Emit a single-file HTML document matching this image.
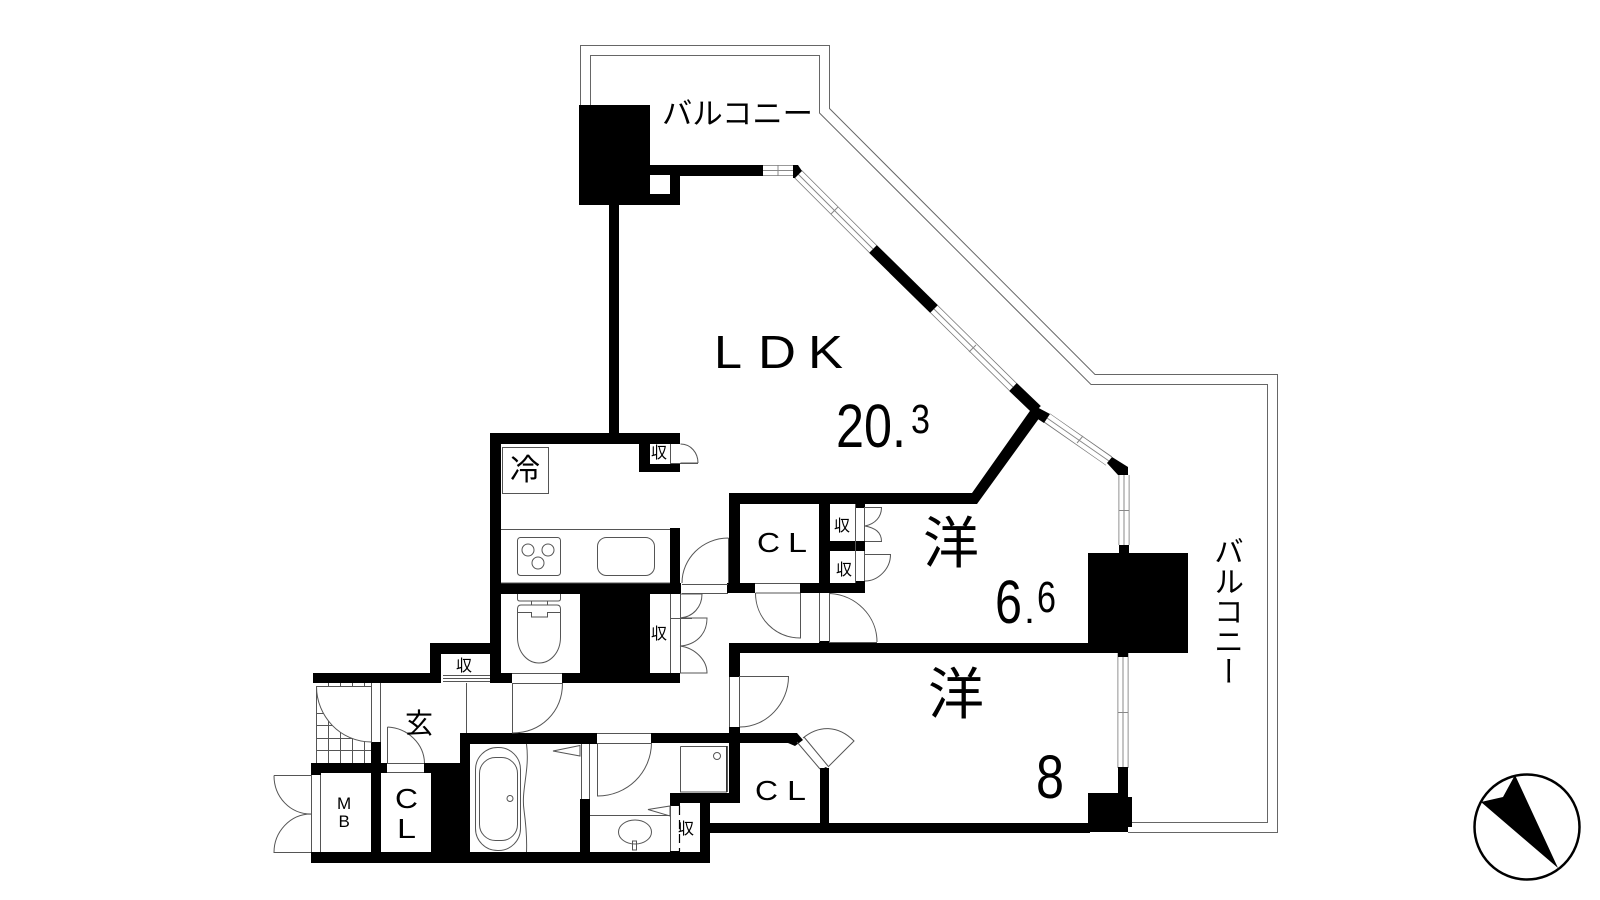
<!DOCTYPE html>
<html><head><meta charset="utf-8"><style>
html,body{margin:0;padding:0;background:#fff;width:1600px;height:900px;overflow:hidden}
svg{display:block;position:absolute;left:0;top:0}
text{font-family:"Liberation Sans","Noto Sans CJK JP",sans-serif;fill:#000}
.v{position:absolute;left:1208px;top:536px;width:32px;font:30px/30px "Liberation Sans","Noto Sans CJK JP",sans-serif;writing-mode:vertical-rl;white-space:nowrap;color:#000;letter-spacing:0}
</style></head><body>
<svg width="1600" height="900" viewBox="0 0 1600 900" xmlns="http://www.w3.org/2000/svg">
<rect width="1600" height="900" fill="#fff"/>
<!-- balcony -->
<g fill="none" stroke="#666" stroke-width="1">
<path d="M580.5 105V45.5H829.5V108.5L1095 374.5H1277.5V832.5H1128"/>
<path d="M590.5 105V55.5H819.5V113L1091 384.5H1267.5V822.5H1132"/>
</g>
<!-- windows -->
<g fill="none">
<g stroke="#777" stroke-width="11">
<path d="M763 170.5H794M798 174L873 249M934 309L1013 387M1047 418L1109 461M1124 475V545M1123 653V768"/>
</g>
<g stroke="#fff" stroke-width="9.4">
<path d="M762 170.5H795M797 173L874 250M933 308L1014 388M1046 417L1110 462M1124 474V546M1123 652V769"/>
</g>
<g stroke="#888" stroke-width="1">
<path d="M763 170.5H794M798 174L873 249M934 309L1013 387M1047 418L1109 461M1124 475V545M1123 653V768"/>
<path d="M778 165.5V175.5M831 214L838 207M969 352L976 345M1077 443L1083 436M1119 510.5H1129M1118 712.5H1128"/>
</g>
</g>
<!-- black walls -->
<g fill="#000">
<path d="M579 105H650V165H763V176H680V205H579Z"/>
<rect x="650" y="175" width="20" height="19" fill="#fff"/>
<path d="M793 165H798L802 171L795 178H793Z"/>
<path d="M873 249L934 309" stroke="#000" stroke-width="11" fill="none"/>
<path d="M1013 387L1037 410" stroke="#000" stroke-width="11" fill="none"/>
<path d="M1033 405L1050 414L1044 423L1030 414Z"/>
<path d="M729 493H972L1032 408L1040 417L977 504H740V593H727V583H729Z"/>
<path d="M1112 457L1128 467V475H1118L1107 463Z"/>
<rect x="1119" y="545" width="10" height="10"/>
<rect x="1088" y="553" width="100" height="100"/>
<rect x="1118" y="653" width="10" height="4"/>
<rect x="1118" y="767" width="10" height="30"/>
<rect x="1088" y="793" width="40" height="39"/>
<rect x="1128" y="797" width="4" height="30"/>
<rect x="710" y="823" width="380" height="10"/>
<rect x="820" y="768" width="9" height="55"/>
<!-- kitchen -->
<rect x="609" y="205" width="10" height="230"/>
<rect x="490" y="433" width="190" height="11"/>
<rect x="490" y="433" width="11" height="250"/>
<rect x="639" y="433" width="41" height="39"/>
<rect x="650" y="444" width="20" height="20" fill="#fff"/>
<rect x="670" y="444" width="10" height="19" fill="#fff"/>
<rect x="670" y="528" width="10" height="66"/>
<rect x="490" y="583" width="191" height="11"/>
<rect x="580" y="594" width="70" height="85"/>
<rect x="490" y="673" width="22" height="10"/>
<rect x="562" y="673" width="118" height="10"/>
<!-- CL upper -->
<rect x="729" y="493" width="11" height="100"/>
<rect x="727" y="583" width="28" height="10"/>
<rect x="800" y="583" width="65" height="10"/>
<rect x="819" y="504" width="11" height="80"/>
<rect x="830" y="541" width="35" height="10"/>
<rect x="855" y="504" width="10" height="4"/>
<rect x="855" y="581" width="10" height="4"/>
<!-- corridor wall -->
<rect x="729" y="643" width="360" height="10"/>
<rect x="729" y="643" width="11" height="34"/>
<rect x="819" y="641" width="10" height="3"/>
<rect x="729" y="727" width="11" height="76"/>
<path d="M651 733H797L803 740L795 746L788 743H651Z"/>
<rect x="670" y="793" width="70" height="10"/>
<rect x="670" y="793" width="10" height="13"/>
<rect x="700" y="803" width="10" height="60"/>
<path d="M820 770L826 767L829 770V790H820Z"/>
<!-- entry -->
<rect x="430" y="643" width="60" height="11"/>
<rect x="430" y="643" width="11" height="40"/>
<rect x="313" y="673" width="128" height="10"/>
<rect x="371" y="742" width="10" height="111"/>
<rect x="311" y="763" width="76" height="10"/>
<rect x="311" y="763" width="10" height="12"/>
<rect x="424" y="763" width="7" height="10"/>
<rect x="431" y="763" width="39" height="90"/>
<rect x="460" y="733" width="10" height="30"/>
<rect x="460" y="733" width="137" height="11"/>
<rect x="311" y="852" width="399" height="11"/>
<rect x="580" y="799" width="10" height="54"/>
<rect x="670" y="851" width="10" height="3"/>
</g>
<!-- thin details -->
<g fill="none" stroke="#555" stroke-width="1">
<!-- thresholds -->
<path d="M597 733.500H651M512 673.500H562M387 763.500H424"/>
<!-- tile grid -->
<path d="M316.500 686V763M328.500 683V763M340.500 683V763M352.500 683V763M364.500 683V763M316 713.500H371M316 725.500H371M316 738.500H371M316 750.500H371"/>
<path d="M316.500 686.500H371.500V742C340 742 316.500 716 316.500 686.500Z" fill="#fff"/>
<path d="M371.500 683V742M380.500 683V742"/>
<!-- fridge -->
<rect x="502.500" y="447.500" width="46" height="46"/>
<!-- counter -->
<path d="M501 529.500H670M501 583H670"/>
<rect x="517.500" y="537.500" width="43" height="38" rx="3"/>
<circle cx="528" cy="550" r="6"/><circle cx="548" cy="550" r="6"/><circle cx="538" cy="563" r="6"/>
<rect x="597.500" y="537.500" width="57" height="38" rx="9"/>
<!-- storage door upper kitchen -->
<path d="M670.500 444V463M680.500 463H698M680.500 444C691 444 698 453 698 463"/>
<path d="M670 463.500H698"/>
<!-- doors near hall -->
<path d="M728.500 538V583M728.500 538C702 538 682 559 682 583M682 584.500H728M682 593.500H728"/>
<path d="M670.500 594V673M680.500 594V673M670 618.500H692"/>
<path d="M680 594H702C702 607 693 617 680 618M680 618H707C707 635 695 645 680 646C695 648 707 660 707 673H680"/>
<!-- toilet -->
<path d="M517.500 594V599Q517.500 601 520 601H558Q560.500 601 560.500 599V594M531.500 601V605M547.500 601V605"/>
<path d="M517.500 609Q517.500 605 521 605H557Q560.500 605 560.500 609V637C560.500 653 550 663 539 663C528 663 517.500 653 517.500 637ZM517.500 612.500H531.500V617H547.500V612.500H560.500"/>
<!-- CL doors -->
<path d="M755.500 593H800M800.500 593V638C775 638 755.500 618 755.500 593"/>
<path d="M755 583.500H800"/>
<path d="M819.500 593V642M829.500 593V642M830 593.500C856 595 877 616 877 642M829 642.500H877"/>
<path d="M855.500 504V583M864.500 507V541M864.500 551V581"/>
<path d="M865 507.500H881.500C881.500 517 875 524 865 526C875 528 881.500 532 881.500 541.500H865"/>
<path d="M865 554.500H890.500C890.500 569 878 581 865 581"/>
<!-- lower bedroom door -->
<path d="M729.500 677V727M739.500 677V727M739 676.500H788.500C788.500 703 767 727 740 727"/>
<path d="M797 742L820 769M804 737L828 766M828 767L854 741C838 725 819 725 803 738"/>
<!-- entry doors -->
<path d="M512.500 683V733M512 733C541 733 562.500 712 562.500 683M512 683.500H562M466.500 683V733"/>
<path d="M443 675.500H490M443 678.500H490M443 681.500H490"/>
<path d="M387.500 727V763M387.500 727C408 728 424 744 424.500 763M387 772.500H424"/>
<!-- CL / MB -->
<path d="M311.500 775V852M320.500 775V852M274 775.500H311M274 775.500C274 797 290 814 311 814C290 814 274 832 274 852.500H311"/>
<!-- bath -->
<rect x="475.500" y="747.500" width="45" height="103" rx="22"/>
<rect x="479.500" y="757.500" width="38" height="83" rx="16"/>
<circle cx="510" cy="798.500" r="3"/>
<path d="M526.500 744C530 770 521 790 524 810C526 825 527 840 526.500 852"/>
<path d="M581.500 744V799M589.500 744V799M553 751L580 745.500V756Z"/>
<path d="M597.500 743V796C627 796 651 773 651.500 743M597 743.500H651"/>
<path d="M590 815.500H670M670.500 806V851M648 809.500L670 806V816Z"/>
<ellipse cx="635" cy="832" rx="16.500" ry="12"/>
<rect x="632.500" y="841" width="4" height="9"/>
<path d="M680.500 746.500H727V792"/>
<path d="M680.500 746.500V792H727"/>
<circle cx="717" cy="756" r="3.500"/>
</g>
<path d="M679.500 806V851" stroke="#000" stroke-width="1.200" stroke-dasharray="9 5"/>
<rect x="726" y="746" width="1.800" height="46" fill="#333"/>
<!-- compass -->
<circle cx="1527" cy="827" r="52.500" fill="none" stroke="#000" stroke-width="2.500"/>
<path d="M1515 775L1503 797L1481 802L1558 868Z" fill="#000"/>
<!-- labels -->
<text x="714" y="368" font-size="46" textLength="28" lengthAdjust="spacingAndGlyphs">L</text>
<text x="758" y="368" font-size="46" textLength="38" lengthAdjust="spacingAndGlyphs">D</text>
<text x="808" y="368" font-size="46" textLength="35" lengthAdjust="spacingAndGlyphs">K</text>
<text x="836" y="447" font-size="61" textLength="70" lengthAdjust="spacingAndGlyphs">20.</text>
<text x="911" y="433" font-size="41" textLength="19" lengthAdjust="spacingAndGlyphs">3</text>
<text x="995" y="623" font-size="61" textLength="27" lengthAdjust="spacingAndGlyphs">6</text>
<text x="1024" y="623" font-size="40" textLength="11" lengthAdjust="spacingAndGlyphs">.</text>
<text x="1037" y="612" font-size="44" textLength="19" lengthAdjust="spacingAndGlyphs">6</text>
<text x="1036" y="798" font-size="61" textLength="28" lengthAdjust="spacingAndGlyphs">8</text>
<text x="923" y="563" font-size="56">洋</text>
<text x="928" y="714" font-size="56">洋</text>
<text x="510" y="480" font-size="30">冷</text>
<text x="405" y="733" font-size="28">玄</text>
<g font-size="16">
<text x="651" y="458">収</text>
<text x="651" y="639">収</text>
<text x="456" y="671">収</text>
<text x="834" y="531">収</text>
<text x="836" y="575">収</text>
<text x="678" y="834">収</text>
</g>
<g font-size="28">
<text x="757" y="552" textLength="23" lengthAdjust="spacingAndGlyphs">C</text>
<text x="788" y="552" textLength="19" lengthAdjust="spacingAndGlyphs">L</text>
<text x="755" y="800" textLength="23" lengthAdjust="spacingAndGlyphs">C</text>
<text x="787" y="800" textLength="19" lengthAdjust="spacingAndGlyphs">L</text>
<text x="395" y="808" textLength="23" lengthAdjust="spacingAndGlyphs">C</text>
<text x="397" y="838" textLength="19" lengthAdjust="spacingAndGlyphs">L</text>
</g>
<text x="337" y="809" font-size="17">M</text>
<text x="338.500" y="827" font-size="17">B</text>
<text x="662" y="124" font-size="30" textLength="151" lengthAdjust="spacingAndGlyphs">バルコニー</text>
</svg>
<div class="v">バルコニー</div>
</body></html>
